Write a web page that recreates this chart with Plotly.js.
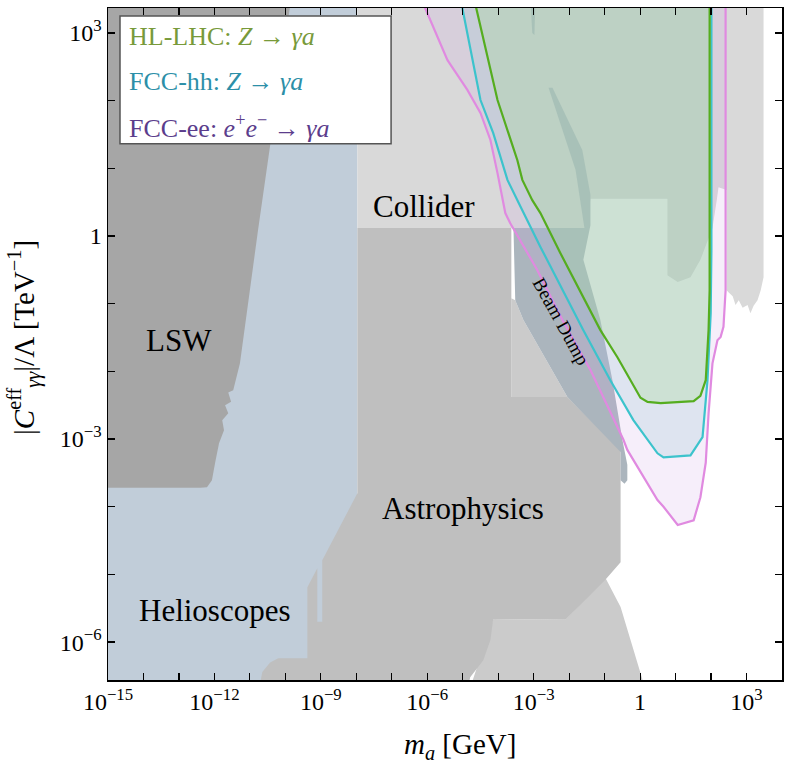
<!DOCTYPE html>
<html>
<head>
<meta charset="utf-8">
<script src="https://cdn.plot.ly/plotly-3.0.1.min.js"></script>
<style>html,body{margin:0;padding:0;background:#fff;}#chart{width:785px;height:766px;}</style>
</head>
<body>
<div id="chart"></div>
<script>
// ---- DATA (log10 of m_a [GeV] and log10 of |C|/Lambda [TeV^-1]) ----
const helioX = [-15.5, -7.97, -7.97, -15.5];
const helioY = [3.5, 3.5, -7, -7];

const lswX = [-15.5, -9.84, -10.77, -11.28, -11.47, -11.61, -11.53, -11.70, -11.61, -11.78, -11.73, -11.87, -11.98, -12.07, -12.21, -12.40, -15.5];
const lswY = [3.5, 3.5, 0.09, -1.88, -2.28, -2.31, -2.45, -2.50, -2.62, -2.72, -2.87, -3.06, -3.35, -3.61, -3.71, -3.72, -3.72];

const colliderX = [-7.97, 3.48, 3.48, 3.40, 3.31, 3.20, 3.11, 3.03, 2.89, 2.78, 2.69, 2.61, 2.49, 2.44, 2.44, 2.21, 2.16, 2.10, 2.04, 1.96, 1.70, 1.42, 1.06, 0.77, 0.77, -1.40, -1.51, -7.97];
const colliderY = [3.5, 3.5, -0.61, -0.80, -0.95, -1.03, -1.14, -1.02, -1.06, -0.95, -1.02, -0.89, -0.83, -0.80, 0.68, 0.72, 0.53, 0.31, 0.12, 0.01, -0.35, -0.61, -0.68, -0.58, 0.55, 0.55, 0.12, 0.12];

const lowLightX = [-5.0, -4.14, -2.10, -0.98, -0.55, -0.19, 0.07, 0.12];
const lowLightY = [-7, -5.66, -5.67, -5.05, -5.48, -6.12, -6.56, -7];

const patchX = [-3.63, -3.52, -3.29, -2.05, -3.63];
const patchY = [-0.92, -0.95, -1.24, -2.38, -2.38];

const astroX = [-10.85, -10.65, -10.43, -10.20, -9.38, -9.38, -9.10, -9.10, -8.96, -8.96, -7.97, -7.97, -3.63, -3.63, -2.05, -0.55, -0.55, -0.98, -2.10, -4.14, -4.22, -4.42, -4.79, -5.0];
const astroY = [-7, -6.44, -6.30, -6.24, -6.24, -5.19, -4.91, -5.70, -5.70, -4.79, -3.80, 0.12, 0.12, -2.38, -2.38, -3.16, -4.82, -5.08, -5.67, -5.66, -5.97, -6.27, -6.52, -7];

const beamX = [-3.57, -1.57, -1.82, -2.58, -2.47, -1.63, -1.40, -1.40, -1.60, -1.12, -0.78, -0.50, -0.36, -0.36, -0.44, -0.55, -0.55, -2.05, -3.29, -3.52];
const beamY = [0.12, 0.12, 0.98, 2.19, 2.19, 1.27, 0.61, 0.16, -0.35, -1.24, -2.13, -3.01, -3.38, -3.61, -3.66, -3.61, -3.19, -2.38, -1.24, -0.95];
const beamSliverX = [-3.09, -2.95, -2.98, -3.04];
const beamSliverY = [3.5, 3.5, 2.97, 3.0];

const hlX = [-4.66, -4.62, -4.02, -3.66, -3.46, -3.32, -3.04, -2.81, -2.25, -1.12, -0.64, 0.01, 0.21, 0.58, 1.14, 1.51, 1.70, 1.85, 1.93, 1.96, 1.96, 1.96];
const hlY = [3.5, 3.37, 2.01, 1.42, 1.12, 0.83, 0.53, 0.34, -0.25, -1.39, -1.79, -2.39, -2.45, -2.47, -2.45, -2.44, -2.36, -2.13, -1.39, -0.80, 2.01, 3.5];

const hhX = [-5.06, -5.01, -4.50, -4.14, -3.74, -3.46, -2.81, -1.60, -0.84, -0.19, 0.49, 0.66, 1.42, 1.76, 1.90, 1.99, 2.01, 2.01];
const hhY = [3.5, 3.37, 2.01, 1.52, 0.83, 0.53, -0.16, -1.39, -2.13, -2.72, -3.21, -3.27, -3.24, -2.97, -2.13, -1.14, -0.21, 3.5];

const eeX = [-6.16, -6.06, -5.43, -4.87, -4.50, -4.22, -4.02, -3.88, -3.80, -3.66, -2.90, -2.19, -1.40, -0.47, -0.36, 0.49, 0.66, 1.06, 1.51, 1.70, 1.85, 1.93, 2.04, 2.18, 2.27, 2.35, 2.38, 2.41, 2.41];
const eeY = [3.5, 3.37, 2.60, 2.16, 1.82, 1.42, 0.93, 0.53, 0.34, 0.19, -0.50, -1.24, -1.98, -3.01, -3.16, -3.90, -4.00, -4.27, -4.20, -3.86, -3.35, -2.62, -1.88, -1.54, -1.49, -1.34, -1.02, -0.80, 3.5];

const xMajorDecades = [-15, -12, -9, -6, -3, 0, 3];
const xMinorDecades = [-14,-13,-11,-10,-8,-7,-5,-4,-2,-1,1,2];
const yMajorDecades = [-6, -3, 0, 3];
const yMinorDecades = [-5,-4,-2,-1,1,2];

const legendLabels = ['HL-LHC: <i>Z</i> → <i>γa</i>', 'FCC-hh: <i>Z</i> → <i>γa</i>', 'FCC-ee: <i>e</i><sup>+</sup><i>e</i><sup>−</sup> → <i>γa</i>'];
const regionLabels = ['Collider', 'LSW', 'Astrophysics', 'Helioscopes'];
const regionLabelX = [-6.08, -13.0, -4.98, -11.98];
const regionLabelY = [0.44, -1.54, -4.02, -5.53];

// ---- helpers ----
const pw = a => a.map(v => Math.pow(10, v));
const FONT = '"Liberation Serif", "Times New Roman", Times, serif';
function label(d){ if (d === 0) return '1'; return '10<sup>' + (d < 0 ? '−' + (-d) : d) + '</sup>'; }

function area(x, y, color){
  return {x: pw(x), y: pw(y), type: 'scatter', mode: 'lines', fill: 'toself', fillcolor: color,
          line: {width: 0, color: color}, hoverinfo: 'skip', showlegend: false};
}
function contour(x, y, fillc, linec){
  return {x: pw(x), y: pw(y), type: 'scatter', mode: 'lines', fill: 'toself', fillcolor: fillc,
          line: {width: 2.2, color: linec}, hoverinfo: 'skip', showlegend: false};
}

const traces = [
  area(helioX, helioY, '#c1cdd9'),
  area(colliderX, colliderY, '#d9d9d9'),
  area(lowLightX, lowLightY, '#cbcbcb'),
  area(patchX, patchY, '#cbcbcb'),
  area(lswX, lswY, '#a6a6a6'),
  area(astroX, astroY, '#bfbfbf'),
  area(beamX, beamY, '#abb5bd'),
  area(beamSliverX, beamSliverY, '#abb5bd'),
  contour(eeX, eeY, 'rgba(205,160,225,0.18)', '#e08ae0'),
  contour(hhX, hhY, 'rgba(150,200,210,0.25)', '#3cc3cc'),
  contour(hlX, hlY, 'rgba(165,220,150,0.30)', '#55ad1f')
];

const legendColors = ['#789a3a', '#2c8fa8', '#5b3d8c'];
const legendYs = [0.957, 0.890, 0.823];

const annotations = [];
regionLabels.forEach((t, i) => annotations.push({
  x: regionLabelX[i], y: regionLabelY[i], xref: 'x', yref: 'y', text: t, showarrow: false,
  font: {family: FONT, size: 31, color: '#000'}
}));
annotations.push({x: -2.22, y: -1.26, xref: 'x', yref: 'y', text: 'Beam Dump', showarrow: false,
  textangle: 61, font: {family: FONT, size: 19, color: '#000'}});
legendLabels.forEach((t, i) => annotations.push({
  x: 0.028, y: legendYs[i], xref: 'paper', yref: 'paper', xanchor: 'left', yanchor: 'middle',
  text: t, showarrow: false, font: {family: FONT, size: 26, color: legendColors[i]}
}));
annotations.push({x: 0.522, y: -0.098, xref: 'paper', yref: 'paper', xanchor: 'center', yanchor: 'middle',
  text: '<i>m<sub>a</sub></i> [GeV]', showarrow: false, font: {family: FONT, size: 29, color: '#000'}});
annotations.push({x: -0.125, y: 0.51, xref: 'paper', yref: 'paper', xanchor: 'center', yanchor: 'middle',
  textangle: -90, text: '|<i>C</i><sup>eff</sup><sub><i>γγ</i></sub>|/Λ [TeV<sup>−1</sup>]', showarrow: false,
  font: {family: FONT, size: 29, color: '#000'}});

const axisCommon = {
  type: 'log', showgrid: false, zeroline: false, showline: true, linecolor: '#000', linewidth: 1.5,
  mirror: 'ticks', ticks: 'inside', ticklen: 7, tickwidth: 1.2, tickcolor: '#000',
  tickmode: 'array', tickfont: {family: FONT, size: 24, color: '#000'}
};

const layout = {
  width: 785, height: 766,
  margin: {l: 108, r: 3, t: 8, b: 86},
  paper_bgcolor: '#fff', plot_bgcolor: '#fff',
  font: {family: FONT},
  showlegend: false,
  xaxis: Object.assign({}, axisCommon, {
    range: [-15, 4.0],
    tickvals: pw(xMajorDecades),
    ticktext: xMajorDecades.map(label),
    minor: {tickmode: 'array', tickvals: pw(xMinorDecades), ticks: 'inside', ticklen: 7, tickwidth: 1.2, tickcolor: '#000', showgrid: false}
  }),
  yaxis: Object.assign({}, axisCommon, {
    range: [-6.56, 3.37],
    tickvals: pw(yMajorDecades),
    ticktext: yMajorDecades.map(label),
    minor: {tickmode: 'array', tickvals: pw(yMinorDecades), ticks: 'inside', ticklen: 7, tickwidth: 1.2, tickcolor: '#000', showgrid: false}
  }),
  shapes: [{type: 'rect', xref: 'paper', yref: 'paper', x0: 0.0178, x1: 0.42, y0: 0.798, y1: 0.988,
            fillcolor: '#fff', line: {color: '#555', width: 1.5}, layer: 'above'}],
  annotations: annotations
};

Plotly.newPlot('chart', traces, layout, {displayModeBar: false, staticPlot: true});
</script>
</body>
</html>
